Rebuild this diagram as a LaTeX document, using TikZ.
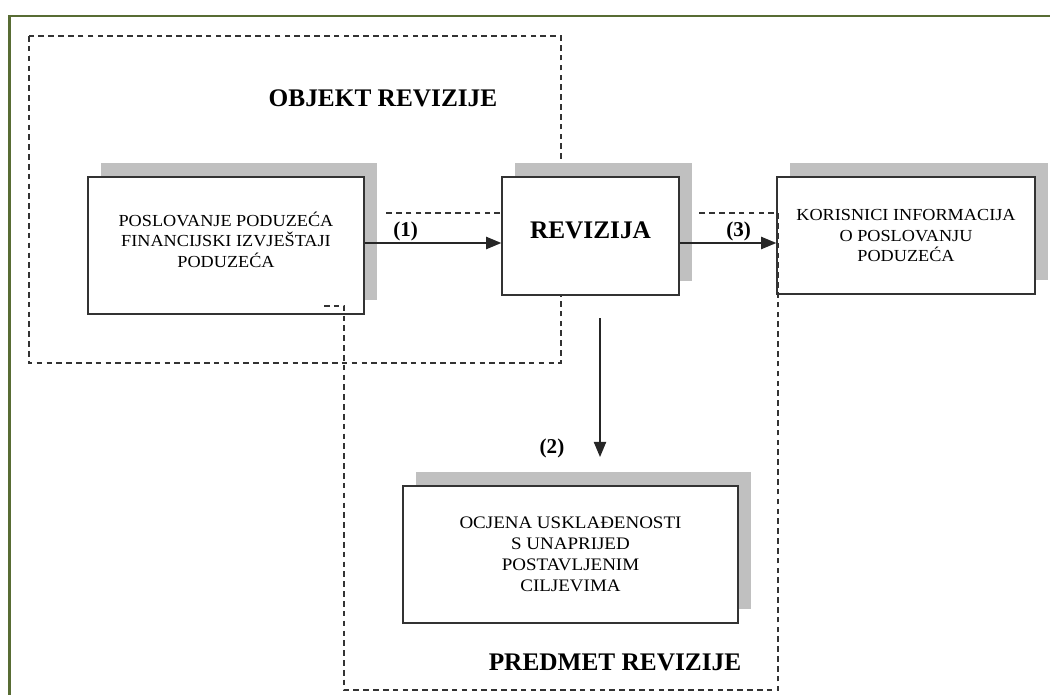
\documentclass[tikz,border=0pt]{standalone}
\usepackage{fontspec}
\setmainfont{Liberation Serif}
\newfontfamily\boxfont[FakeStretch=1.08]{Liberation Serif}
\usepackage{tikz}
\usetikzlibrary{shadows,arrows.meta}
\definecolor{framegreen}{RGB}{88,108,52}
\definecolor{shadowgray}{RGB}{192,192,192}

\begin{document}
\begin{tikzpicture}[x=0.025cm, y=-0.025cm,
  region/.style={draw=black!80, line width=0.95pt, dash pattern=on 4pt off 3pt},
  block/.style={draw=black!80, line width=1pt, fill=white, align=center, inner sep=0pt,
    general shadow={shadow xshift=0.33cm, shadow yshift=0.35cm, fill=shadowgray}},
  small/.style={font=\boxfont\fontsize{12}{14.5}\selectfont},
  big/.style={font=\fontsize{18}{21}\selectfont\bfseries},
  lbl/.style={font=\fontsize{15}{18}\selectfont\bfseries, inner sep=1pt},
  arr/.style={draw=black!85, line width=0.9pt, -{Triangle[length=3.8mm, width=3.1mm]}}]

\useasboundingbox (0,0) rectangle (1050,695);

% frame
\draw[framegreen, line width=2pt] (9.5,720) -- (9.5,16) -- (1070,16);

% objekt revizije
\draw[region] (29,36) rectangle (561,363);
\node[big] (objekt) at (383,98) {OBJEKT REVIZIJE};

% blocks
\node[block, small, minimum width=6.9cm, minimum height=3.425cm, text depth=0.3cm] (poslovanje) at (226,245.5)
  {POSLOVANJE PODUZEĆA\\FINANCIJSKI IZVJEŠTAJI\\PODUZEĆA};
\node[block, big, minimum width=4.425cm, minimum height=2.95cm, text depth=0.3cm] (revizija) at (590.5,236) {REVIZIJA};
\node[block, small, minimum width=6.45cm, minimum height=2.925cm] (korisnici) at (906,235.5)
  {KORISNICI INFORMACIJA\\O POSLOVANJU\\PODUZEĆA};
\node[block, small, font=\boxfont\fontsize{12.5}{15}\selectfont, minimum width=8.375cm, minimum height=3.425cm] (ocjena) at (570.5,554.5)
  {OCJENA USKLAĐENOSTI\\S UNAPRIJED\\POSTAVLJENIM\\CILJEVIMA};

% predmet revizije
\draw[region] (324,306) -- (344,306) -- (344,690) -- (778,690) -- (778,213) -- (698,213);
\draw[region] (500,213) -- (382,213);
\node[big] (predmet) at (615,662) {PREDMET REVIZIJE};

% arrows
\coordinate (arrowrow) at (0,243);
\draw[arr] (poslovanje.east |- arrowrow) -- node[lbl, above, pos=.3] (l1) {(1)} (revizija.west |- arrowrow);
\draw[arr] (revizija.east |- arrowrow) -- node[lbl, above, pos=.61] (l3) {(3)} (korisnici.west |- arrowrow);

\coordinate (down0) at (600,318);
\coordinate (down1) at (600,457);
\draw[arr] (down0) -- (down1);
\node[lbl] (l2) at (552,448) {(2)};

\end{tikzpicture}
\end{document}
